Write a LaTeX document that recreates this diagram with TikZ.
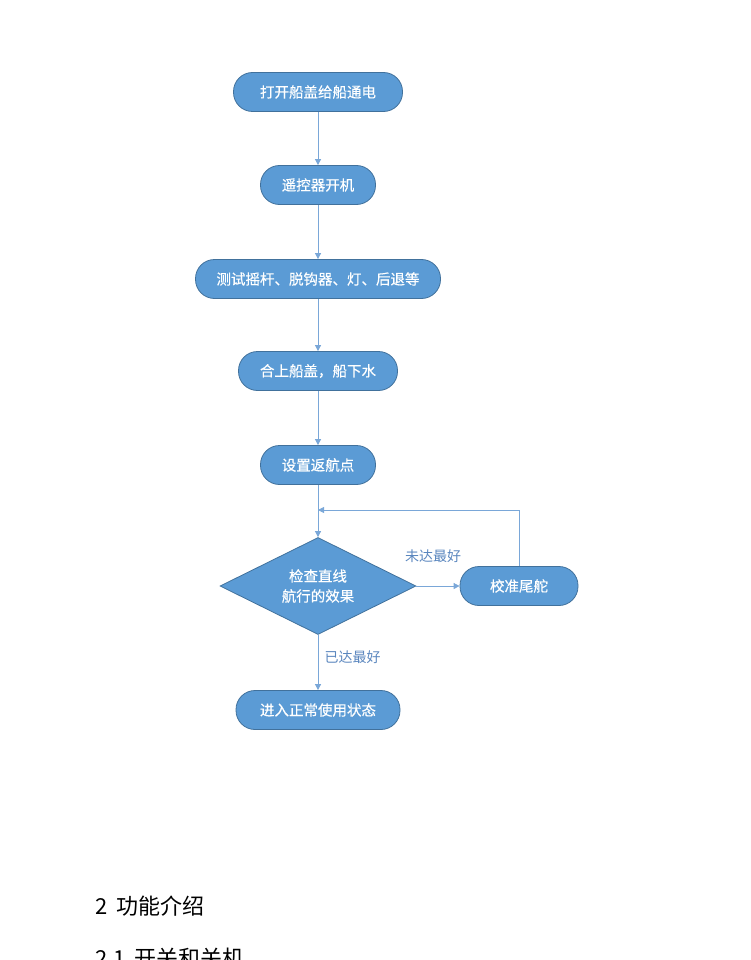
\documentclass[tikz,border=0pt]{standalone}
\usepackage{fontspec}
\setmainfont{Noto Sans CJK SC}
\newfontfamily\boxfont[FakeBold=0.4]{Noto Sans CJK SC}
\usetikzlibrary{shapes.geometric,arrows.meta}
\definecolor{boxfill}{HTML}{5B9BD5}
\definecolor{boxline}{HTML}{41719C}
\definecolor{linkc}{HTML}{7AA7D8}
\definecolor{labc}{HTML}{5A86BE}
\tikzset{
  term/.style={rectangle, rounded corners=19pt, draw=boxline, line width=0.8pt, fill=boxfill, text=white,
    minimum height=39pt, inner xsep=6pt, font=\boxfont\fontsize{14.5}{17}\selectfont},
  decide/.style={diamond, aspect=2, draw=boxline, line width=0.8pt, fill=boxfill, text=white,
    minimum width=196pt, minimum height=97pt, inner sep=0pt, align=center, font=\boxfont\fontsize{14.5}{20}\selectfont},
  link/.style={draw=linkc, line width=0.8pt, -{Triangle[length=6pt,width=6pt]}},
  lab/.style={text=labc, font=\fontsize{14}{16}\selectfont},
  head/.style={text=black, anchor=west, font=\fontsize{22}{24}\selectfont}
}
\begin{document}
\begin{tikzpicture}[x=1pt,y=-1pt]
\useasboundingbox (0,0) rectangle (750,960);
\node[term, minimum width=169pt] (n1) at (318,92) {打开船盖给船通电};
\node[term, minimum width=115pt] (n2) at (318,185) {遥控器开机};
\node[term, minimum width=245pt] (n3) at (318,279) {测试摇杆、脱钩器、灯、后退等};
\node[term, minimum width=159pt] (n4) at (318,371) {合上船盖，船下水};
\node[term, minimum width=115pt] (n5) at (318,465) {设置返航点};
\node[decide] (d) at (318,586) {检查直线\\航行的效果};
\node[term, minimum width=118pt] (r) at (519,586) {校准尾舵};
\node[term, minimum width=164pt] (n6) at (318,710) {进入正常使用状态};
\coordinate (j) at (318,510);
\draw[link] (n1) -- (n2);
\draw[link] (n2) -- (n3);
\draw[link] (n3) -- (n4);
\draw[link] (n4) -- (n5);
\draw[link] (n5) -- (d);
\draw[link] (d) -- node[lab, above=20pt, xshift=-5pt] {未达最好} (r);
\draw[link] (r.north) |- (j);
\draw[link] (d) -- node[lab, right=3pt, pos=0.4] {已达最好} (n6);
\node[head] (h1) at (92,906) {2\hspace{0.4em}功能介绍};
\node[head] (h2) at (92,958) {2.1\hspace{0.4em}开关和关机};
\end{tikzpicture}
\end{document}
